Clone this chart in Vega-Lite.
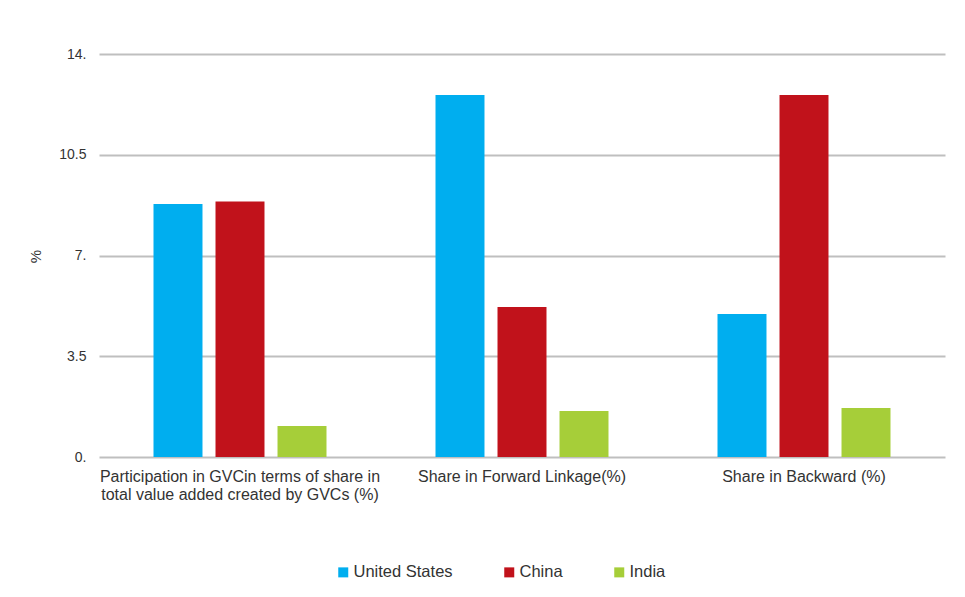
{
  "$schema": "https://vega.github.io/schema/vega-lite/v6.json",
  "autosize": "none",
  "width": 846,
  "height": 403,
  "padding": {"left": 99, "top": 54, "right": 20, "bottom": 140},
  "background": "white",
  "config": {
    "font": "Liberation Sans",
    "view": {"stroke": null},
    "axis": {"labelColor": "#333333", "titleColor": "#333333"}
  },
  "data": {
    "values": [
      {"indicator": "Participation in GVCin terms of share in|total value added created by GVCs (%)", "country": "United States", "value": 8.79},
      {"indicator": "Participation in GVCin terms of share in|total value added created by GVCs (%)", "country": "China", "value": 8.88},
      {"indicator": "Participation in GVCin terms of share in|total value added created by GVCs (%)", "country": "India", "value": 1.08},
      {"indicator": "Share in Forward Linkage(%)", "country": "United States", "value": 12.58},
      {"indicator": "Share in Forward Linkage(%)", "country": "China", "value": 5.21},
      {"indicator": "Share in Forward Linkage(%)", "country": "India", "value": 1.6},
      {"indicator": "Share in Backward (%)", "country": "United States", "value": 4.97},
      {"indicator": "Share in Backward (%)", "country": "China", "value": 12.58},
      {"indicator": "Share in Backward (%)", "country": "India", "value": 1.7}
    ]
  },
  "mark": {"type": "bar"},
  "encoding": {
    "x": {
      "field": "indicator",
      "type": "nominal",
      "sort": null,
      "scale": {"paddingInner": 0, "paddingOuter": 0},
      "axis": {
        "title": null,
        "labelAngle": 0,
        "labelFontSize": 16,
        "labelBaseline": "top",
        "labelPadding": 11,
        "labelLineHeight": 18,
        "labelExpr": "split(datum.label, '|')",
        "labelLimit": 400,
        "ticks": false,
        "domain": false
      }
    },
    "xOffset": {
      "field": "country",
      "type": "nominal",
      "sort": ["United States", "China", "India"],
      "scale": {"paddingInner": 0.21, "paddingOuter": 0.879}
    },
    "y": {
      "field": "value",
      "type": "quantitative",
      "scale": {"domain": [0, 14], "nice": false},
      "axis": {
        "title": "%",
        "titleFontSize": 15,
        "titleFontWeight": "normal",
        "titleX": -56,
        "titleY": 202,
        "values": [0, 3.5, 7, 10.5, 14],
        "labelExpr": "datum.value % 1 === 0 ? datum.value + '.' : toString(datum.value)",
        "labelFontSize": 14,
        "labelPadding": 13,
        "ticks": false,
        "domain": false,
        "grid": true,
        "gridColor": "#BFBFBF",
        "gridWidth": 2
      }
    },
    "color": {
      "field": "country",
      "type": "nominal",
      "sort": ["United States", "China", "India"],
      "scale": {
        "domain": ["United States", "China", "India"],
        "range": ["#00AEEF", "#C1121B", "#A6CE39"]
      },
      "legend": {
        "title": null,
        "orient": "none",
        "direction": "horizontal",
        "legendX": 236,
        "legendY": 510,
        "symbolType": "square",
        "symbolSize": 100,
        "symbolStrokeWidth": 0,
        "labelFontSize": 16.5,
        "labelColor": "#333333",
        "labelOffset": 2,
        "columnPadding": 48
      }
    }
  }
}
